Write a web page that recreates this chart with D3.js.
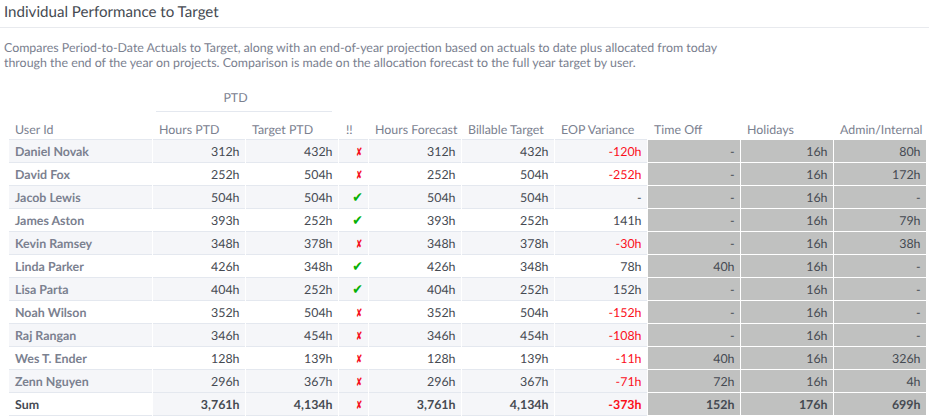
<!DOCTYPE html>
<html>
<head>
<meta charset="utf-8">
<script src="https://cdn.jsdelivr.net/npm/d3@7"></script>
<style>
  html, body { margin: 0; padding: 0; background: #fff; }
  svg { display: block; font-family: Lato, sans-serif; text-rendering: geometricPrecision; }
</style>
</head>
<body>
<svg id="chart" width="929" height="418"></svg>
<script>
// chart data
const titleText = "Individual Performance to Target";
const descriptionLines = [
  "Compares Period-to-Date Actuals to Target, along with an end-of-year projection based on actuals to date plus allocated from today",
  "through the end of the year on projects. Comparison is made on the allocation forecast to the full year target by user."
];
const columnNames = ["User Id", "Hours PTD", "Target PTD", "!!", "Hours Forecast", "Billable Target", "EOP Variance", "Time Off", "Holidays", "Admin/Internal"];
const userIds = ["Daniel Novak", "David Fox", "Jacob Lewis", "James Aston", "Kevin Ramsey", "Linda Parker", "Lisa Parta", "Noah Wilson", "Raj Rangan", "Wes T. Ender", "Zenn Nguyen", "Sum"];
const hoursPtd = [312, 252, 504, 393, 348, 426, 404, 352, 346, 128, 296, 3761];
const targetPtd = [432, 504, 504, 252, 378, 348, 252, 504, 454, 139, 367, 4134];
const metTarget = [false, false, true, true, false, true, true, false, false, false, false, false];
const hoursForecast = [312, 252, 504, 393, 348, 426, 404, 352, 346, 128, 296, 3761];
const billableTarget = [432, 504, 504, 252, 378, 348, 252, 504, 454, 139, 367, 4134];
const eopVariance = [-120, -252, null, 141, -30, 78, 152, -152, -108, -11, -71, -373];
const timeOff = [null, null, null, null, null, 40, null, null, null, 40, 72, 152];
const holidays = [16, 16, 16, 16, 16, 16, 16, 16, 16, 16, 16, 176];
const adminInternal = [80, 172, null, 79, 38, null, null, null, null, 326, 4, 699];

// layout
const colEdges = [9, 153, 246, 339, 369, 462, 555, 648, 741, 834, 927];
const x = d3.scaleOrdinal().domain(columnNames).range(colEdges);
const colRight = name => colEdges[columnNames.indexOf(name) + 1] - 1;
const y = d3.scaleBand().domain(userIds).range([139.5, 415.5]);

const greyCols = ["Time Off", "Holidays", "Admin/Internal"];
const numberCols = [
  ["Hours PTD", hoursPtd], ["Target PTD", targetPtd], ["Hours Forecast", hoursForecast],
  ["Billable Target", billableTarget], ["EOP Variance", eopVariance],
  ["Time Off", timeOff], ["Holidays", holidays], ["Admin/Internal", adminInternal]
];
// plain hyphen for negatives, d3.format would give a unicode minus
const fmt = v => v === null ? "-" : (v < 0 ? "-" : "") + d3.format(",")(Math.abs(v)) + "h";

const svg = d3.select("#chart");
const textGrey = "#7b8190";
const textDark = "#454a52";

// title + description
svg.append("text").attr("x", 4).attr("y", 17)
  .style("font-size", "15.1px").style("fill", textDark).text(titleText);
svg.append("line").attr("x1", 0).attr("x2", 929).attr("y1", 27.5).attr("y2", 27.5)
  .style("stroke", "#e8eaee");
svg.selectAll(".desc").data(descriptionLines).enter().append("text")
  .attr("class", "desc").attr("x", 4).attr("y", (d, i) => 52 + i * 15)
  .style("font-size", "12.4px").style("fill", textGrey).text(d => d);

// PTD group header
svg.append("text").attr("x", 235.5).attr("y", 102).attr("text-anchor", "middle")
  .style("font-size", "12.4px").style("fill", textGrey).text("PTD");
svg.append("line").attr("x1", x("Hours PTD") + 3).attr("x2", colRight("Target PTD") - 6)
  .attr("y1", 111.5).attr("y2", 111.5).style("stroke", "#e4e8ef");

// column headers
svg.selectAll(".head").data(columnNames).enter().append("text")
  .attr("class", "head")
  .attr("x", d => x(d) + (d === "!!" ? 7 : 6))
  .attr("y", 134)
  .style("font-size", "12.4px").style("fill", textGrey).text(d => d);

// row backgrounds, one rect per column so the white gaps show
const rows = svg.selectAll(".row").data(userIds).enter().append("g")
  .attr("class", "row").attr("transform", d => `translate(0,${y(d)})`);

columnNames.forEach(col => {
  rows.append("rect")
    .attr("x", x(col))
    .attr("y", 0.5)
    .attr("width", colRight(col) - x(col))
    .attr("height", y.bandwidth() - 1)
    .style("fill", (d, i) => {
      if (greyCols.includes(col)) return "#c0c1c0";
      // sum row: label cell stays white, the rest is shaded
      if (d === "Sum") return col === "User Id" ? "#fff" : "#f5f6f9";
      return i % 2 === 0 ? "#f5f6f9" : "#fff";
    });
  rows.append("line")
    .attr("x1", x(col)).attr("x2", colRight(col))
    .attr("y1", y.bandwidth()).attr("y2", y.bandwidth())
    .style("stroke", greyCols.includes(col) ? "#fff" : "#e4e8ef");
});
columnNames.filter(c => !greyCols.includes(c)).forEach(col => {
  svg.append("line").attr("x1", x(col)).attr("x2", colRight(col))
    .attr("y1", y.range()[0]).attr("y2", y.range()[0]).style("stroke", "#e4e8ef");
});

// first column names
rows.append("text").attr("x", x("User Id") + 6).attr("y", 16)
  .style("font-size", "12.4px").style("font-weight", 700)
  .style("fill", d => d === "Sum" ? textDark : textGrey).text(d => d);

// number columns
numberCols.forEach(([col, values]) => {
  rows.append("text")
    .attr("x", colRight(col) - 5.5).attr("y", 16).attr("text-anchor", "end")
    .style("font-size", "12.4px")
    .style("font-weight", d => d === "Sum" ? 700 : 400)
    .style("fill", (d, i) => {
      if (col === "EOP Variance" && values[i] !== null && values[i] < 0) return "#fb0f1b";
      return textDark;
    })
    .text((d, i) => fmt(values[i]));
});

// status marks, squeezed a bit to get the narrow shape of the original glyphs
const markCx = (x("!!") + colRight("!!")) / 2;
rows.append("text")
  .attr("transform", (d, i) => metTarget[i]
    ? `translate(${markCx + 4},16.5) scale(0.9,1)`
    : `translate(${markCx + 5.5},16) scale(0.62,1)`)
  .attr("text-anchor", "middle")
  .style("font-family", "'DejaVu Sans'")
  .style("font-size", (d, i) => metTarget[i] ? "14px" : "12px")
  .style("fill", (d, i) => metTarget[i] ? "#05b005" : "#f5101e")
  .text((d, i) => metTarget[i] ? "✔" : "✘");
</script>
</body>
</html>
